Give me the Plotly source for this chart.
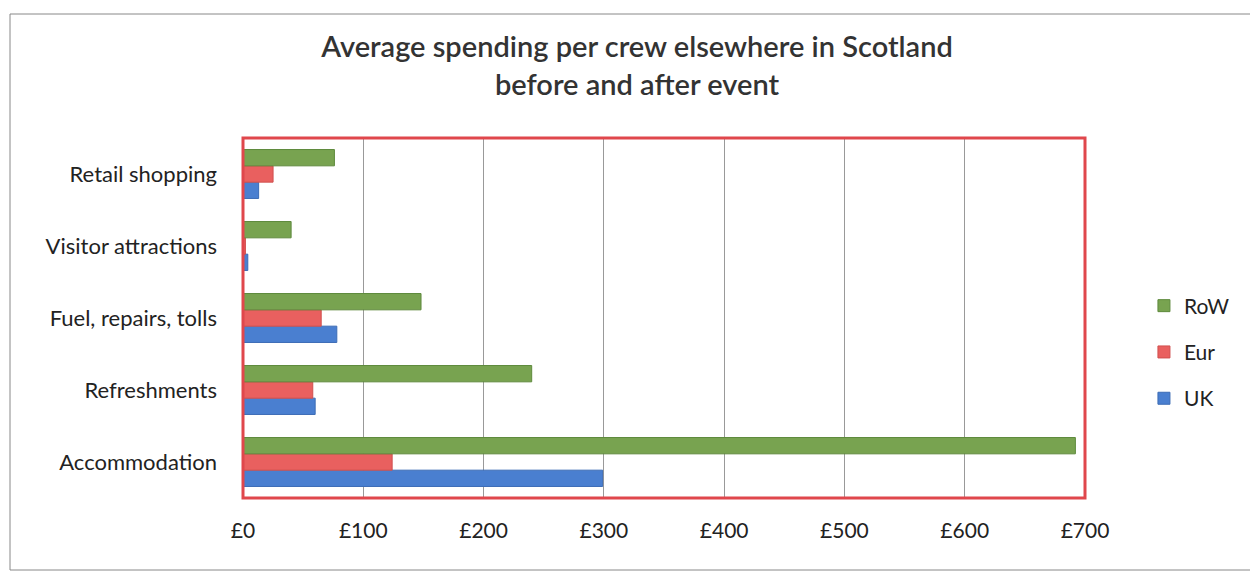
import plotly.graph_objects as go

categories = ["Accommodation", "Refreshments", "Fuel, repairs, tolls", "Visitor attractions", "Retail shopping"]
uk = [299, 60, 78, 4, 13]
eur = [124, 58, 65, 2, 25]
row = [692, 240, 148, 40, 76]
x_ticks = [0, 100, 200, 300, 400, 500, 600, 700]
x_tick_text = ["£" + str(v) for v in x_ticks]

W, H = 1258, 576
ml, mr, mt, mb = 235, 181, 130, 86

fig = go.Figure()
fig.add_trace(go.Bar(y=categories, x=uk, name="UK", orientation="h", legendgroup="uk", legendrank=3,
                     marker=dict(color="#4A7FD0", line=dict(color="#3D6CB5", width=1))))
fig.add_trace(go.Bar(y=categories, x=eur, name="Eur", orientation="h", legendgroup="eur", legendrank=2,
                     marker=dict(color="#E9605F", line=dict(color="#D04F4E", width=1))))
fig.add_trace(go.Bar(y=categories, x=row, name="RoW", orientation="h", legendgroup="row", legendrank=1,
                     marker=dict(color="#78A350", line=dict(color="#5E8A3C", width=1))))

pw = W - ml - mr
ph = H - mt - mb

fig.update_layout(
    width=W, height=H,
    margin=dict(l=ml, r=mr, t=mt, b=mb),
    paper_bgcolor="white", plot_bgcolor="white",
    barmode="group", bargap=0.32, bargroupgap=0,
    font=dict(family="Lato, Open Sans, sans-serif", color="#222222"),
    title=dict(text="Average spending per crew elsewhere in Scotland<br>before and after event",
               x=0.5, xanchor="center", y=0.915, yanchor="top",
               font=dict(size=29, color="#333333", weight=600)),
    xaxis=dict(range=[0, 700], tickvals=x_ticks, ticktext=x_tick_text, showgrid=True,
               gridcolor="#999999", gridwidth=1, zeroline=False,
               tickfont=dict(size=21), ticklabelstandoff=18, showline=False,
               automargin=False),
    yaxis=dict(tickfont=dict(size=22), ticklabelstandoff=25, showgrid=False,
               categoryorder="array", categoryarray=categories, automargin=False),
    legend=dict(x=1.07, y=(H - mb - 344) / ph, xanchor="left", yanchor="middle",
                traceorder="grouped", font=dict(size=21),
                itemwidth=30, tracegroupgap=16),
    shapes=[
        dict(type="rect", xref="paper", yref="paper", x0=0, x1=1, y0=0, y1=1,
             line=dict(color="#E0474C", width=3)),
        dict(type="rect", xref="paper", yref="paper",
             x0=-(ml - 2) / pw, x1=1 + (mr - 6) / pw,
             y0=-(mb - 14) / ph, y1=1 + (mt - 6) / ph,
             line=dict(color="#888888", width=1)),
    ],
)

fig.write_html("out.html")
